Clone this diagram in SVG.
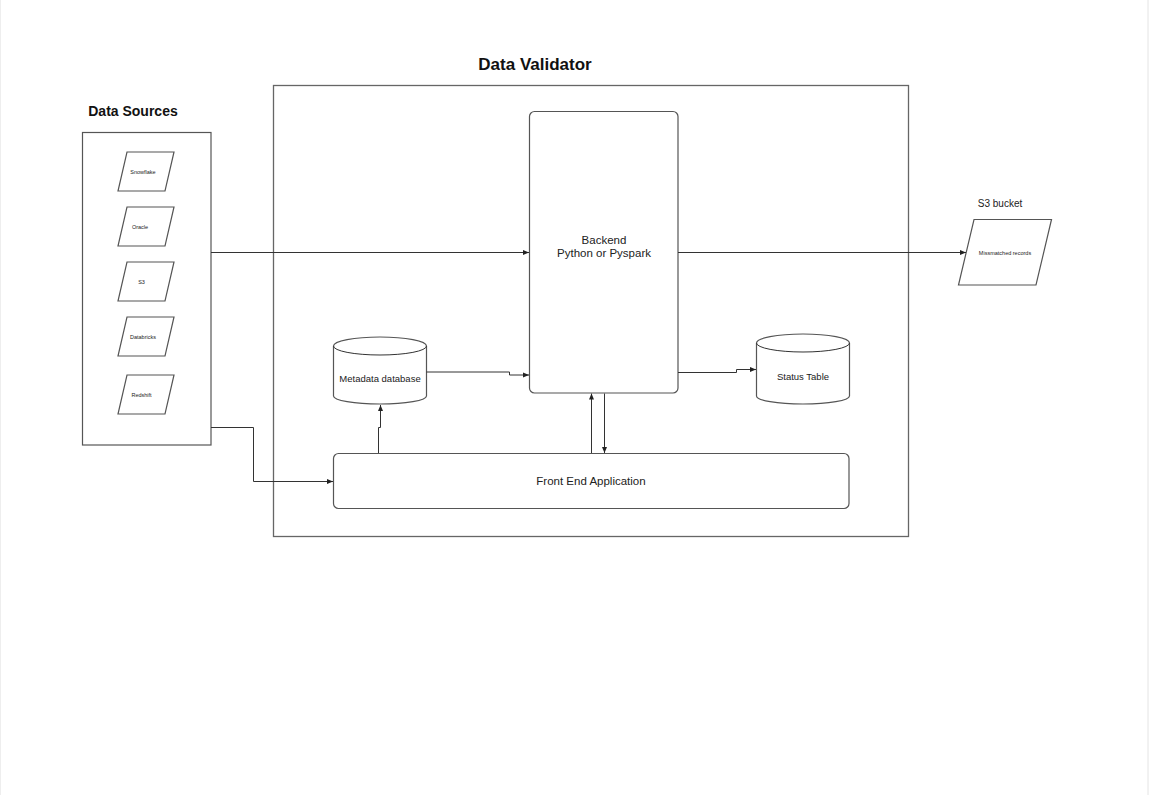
<svg xmlns="http://www.w3.org/2000/svg" width="1151" height="795" viewBox="0 0 1151 795">
<defs>
<style>
.box{fill:#fff;stroke:#555;stroke-width:1.2}
.frame{fill:none;stroke:#666;stroke-width:1.3}
.edge{fill:none;stroke:#333;stroke-width:1}
.t{font-family:"Liberation Sans",Arial,sans-serif;fill:#222;text-anchor:middle}
.title{font-weight:bold;fill:#111}
</style>
<marker id="ah" viewBox="0 0 6 6" refX="6" refY="3" markerWidth="6" markerHeight="6" markerUnits="userSpaceOnUse" orient="auto">
<path d="M0,0.5 L6,3 L0,5.5 Z" fill="#222"/>
</marker>
</defs>
<rect width="1151" height="795" fill="#fff"/>
<line x1="1148" y1="0" x2="1148" y2="795" stroke="#e4e4e4" stroke-width="1"/>
<line x1="0.5" y1="0" x2="0.5" y2="795" stroke="#eee" stroke-width="1"/>

<g id="data-validator">
<rect class="frame" x="273.5" y="85.5" width="635" height="451"/>
<text class="t title" x="535" y="70" font-size="17">Data Validator</text>
</g>

<g id="data-sources">
<rect class="box" x="82.5" y="132.5" width="128.5" height="312.5"/>
<text class="t title" x="133" y="116" font-size="14">Data Sources</text>
</g>
<g id="snowflake">
<polygon class="box" points="127,152 174,152 165,191 118,191"/>
<text class="t" x="143" y="174" font-size="5.5">Snowflake</text>
</g>
<g id="oracle">
<polygon class="box" points="127,207 174,207 165,246 118,246"/>
<text class="t" x="140" y="229" font-size="5.5">Oracle</text>
</g>
<g id="s3">
<polygon class="box" points="127,262 174,262 165,301 118,301"/>
<text class="t" x="141.5" y="284" font-size="5.5">S3</text>
</g>
<g id="databricks">
<polygon class="box" points="127,317 174,317 165,356 118,356"/>
<text class="t" x="143" y="339" font-size="5.5">Databricks</text>
</g>
<g id="redshift">
<polygon class="box" points="127,375 174,375 165,414 118,414"/>
<text class="t" x="141.5" y="397" font-size="5.5">Redshift</text>
</g>

<g id="backend">
<rect class="box" x="529.5" y="111.5" width="148.5" height="281.5" rx="5"/>
<text class="t" x="604" y="244" font-size="11.5">Backend</text>
<text class="t" x="604" y="257" font-size="11.5">Python or Pyspark</text>
</g>

<g id="s3-bucket">
<text class="t" x="1000" y="207" font-size="10">S3 bucket</text>
<polygon class="box" points="974,219.5 1051.5,219.5 1036,285 958.5,285"/>
<text class="t" x="1005" y="254.5" font-size="5.5">Missmatched records</text>
</g>

<g id="metadata-database">
<path class="box" d="M333.5,346 A46.5,9 0 0 1 426.5,346 L426.5,396 A46.5,8 0 0 1 333.5,396 Z"/>
<path class="edge" d="M333.5,346 A46.5,9 0 0 0 426.5,346" stroke="#555" stroke-width="1.2"/>
<text class="t" x="380" y="382" font-size="9.5">Metadata database</text>
</g>

<g id="status-table">
<path class="box" d="M756.5,343 A46.5,9 0 0 1 849.5,343 L849.5,396 A46.5,8 0 0 1 756.5,396 Z"/>
<path class="edge" d="M756.5,343 A46.5,9 0 0 0 849.5,343" stroke="#555" stroke-width="1.2"/>
<text class="t" x="803" y="380" font-size="9.5">Status Table</text>
</g>

<g id="front-end">
<rect class="box" x="333.5" y="453.5" width="515.5" height="55" rx="5"/>
<text class="t" x="591" y="485" font-size="11.5">Front End Application</text>
</g>

<g id="connectors">
<path class="edge" d="M211,252.5 L529,252.5" marker-end="url(#ah)"/>
<path class="edge" d="M678,252.5 L966,252.5" marker-end="url(#ah)"/>
<path class="edge" d="M211,427.5 L253.5,427.5 L253.5,481.5 L333,481.5" marker-end="url(#ah)"/>
<path class="edge" d="M426.5,372 L509.5,372 L509.5,375 L529,375" marker-end="url(#ah)"/>
<path class="edge" d="M678,372.5 L736.5,372.5 L736.5,369.5 L756,369.5" marker-end="url(#ah)"/>
<path class="edge" d="M378.5,453 L378.5,427.5 L380.5,427.5 L380.5,405" marker-end="url(#ah)"/>
<path class="edge" d="M591.5,453 L591.5,393.5" marker-end="url(#ah)"/>
<path class="edge" d="M604.5,393.5 L604.5,453" marker-end="url(#ah)"/>
</g>
</svg>
